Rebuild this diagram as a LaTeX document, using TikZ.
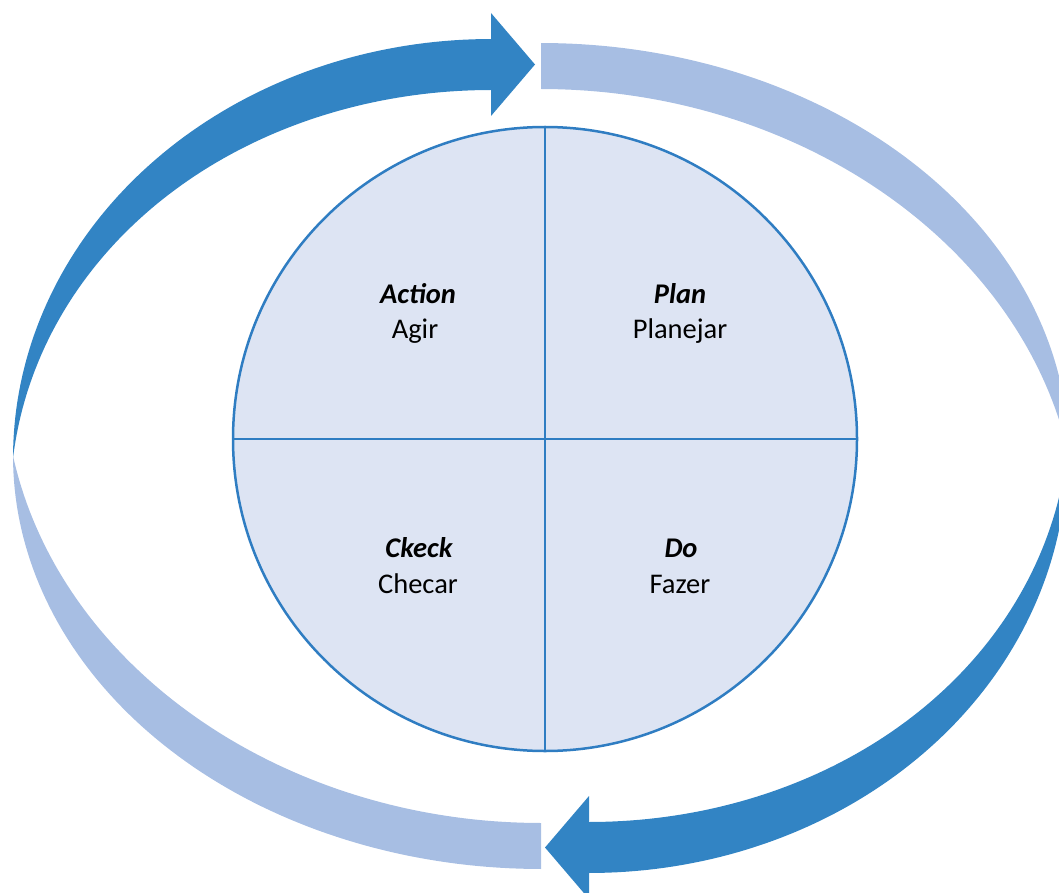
\documentclass[tikz,border=0pt]{standalone}
\usepackage{fontspec}
\setmainfont{Carlito}
\begin{document}
\begin{tikzpicture}[x=1pt,y=-1pt,
  darkband/.style={fill=ringdark},
  lightband/.style={fill=ringlight},
  quarter/.style={line width=2pt,draw=edgeblue},
  headtext/.style={anchor=base,font=\fontsize{28.5}{34}\selectfont\bfseries\itshape,inner sep=0pt},
  subtext/.style={anchor=base,font=\fontsize{28.5}{34}\selectfont,inner sep=0pt}]
\definecolor{ringdark}{HTML}{3284C4}
\definecolor{ringlight}{HTML}{A7BEE3}
\definecolor{discfill}{HTML}{DDE4F3}
\definecolor{edgeblue}{HTML}{2F7DC2}
\useasboundingbox (0,0) rectangle (1059,893);
\clip (0,0) rectangle (1059,893);

% dark band, upper left, with its head pointing right
\fill[darkband]
  plot[domain=0:90,samples=80,variable=\p] ({491-478*cos(\p)},{458-419*sin(\p)})
  -- (491,13) -- (535,64.5) -- (491,116)
  -- plot[domain=90:0,samples=80,variable=\p]
     ({491-(478-51*sin(\p))*cos(\p)},{458-(419-51*sin(\p))*sin(\p)})
  -- cycle;

% dark band, lower right, with its head pointing left
\fill[darkband]
  plot[domain=0:90,samples=80,variable=\p] ({589+478*cos(\p)},{454+419*sin(\p)})
  -- (589,899) -- (545,847.5) -- (589,796)
  -- plot[domain=90:0,samples=80,variable=\p]
     ({589+(478-51*sin(\p))*cos(\p)},{454+(419-51*sin(\p))*sin(\p)})
  -- cycle;

% light band, upper right
\fill[lightband]
  plot[domain=0:90,samples=80,variable=\p] ({541+528*cos(\p)},{456-413*sin(\p)})
  -- plot[domain=90:0,samples=80,variable=\p]
     ({541+(528-46*sin(\p)*(2-sin(\p)))*cos(\p)},{456-(413-46*sin(\p)*(2-sin(\p)))*sin(\p)})
  -- cycle;

% light band, lower left
\fill[lightband]
  plot[domain=0:90,samples=80,variable=\p] ({541-528*cos(\p)},{456+413*sin(\p)})
  -- plot[domain=90:0,samples=80,variable=\p]
     ({541-(528-46*sin(\p)*(2-sin(\p)))*cos(\p)},{456+(413-46*sin(\p)*(2-sin(\p)))*sin(\p)})
  -- cycle;

% the disc split in four quarters
\node[circle,draw=edgeblue,line width=2.5pt,fill=discfill,minimum size=624pt,inner sep=0pt]
  (disc) at (545,439) {};
\draw[quarter] (disc.north) -- (disc.south);
\draw[quarter] (disc.west) -- (disc.east);

\node[headtext] (acth) at (418,303) {Action};
\node[subtext]  (acts) at (415,338) {Agir};
\node[headtext] (plah) at (680,303) {Plan};
\node[subtext]  (plas) at (680,338) {Planejar};
\node[headtext] (chkh) at (419,557) {Ckeck};
\node[subtext]  (chks) at (418,593) {Checar};
\node[headtext] (doh)  at (681,557) {Do};
\node[subtext]  (dos)  at (680,593) {Fazer};
\end{tikzpicture}
\end{document}
